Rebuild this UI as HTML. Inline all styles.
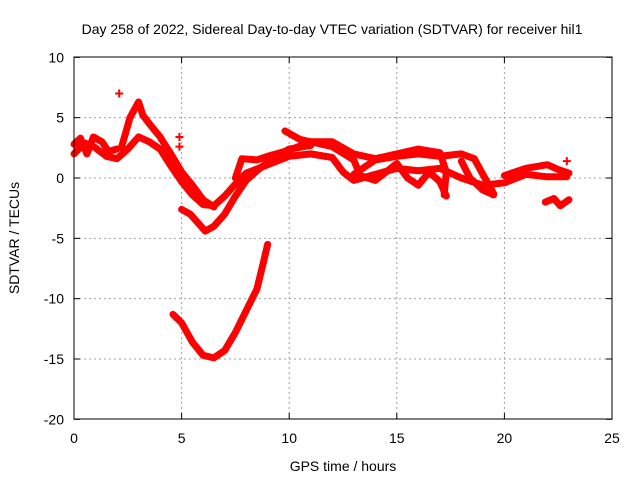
<!DOCTYPE html>
<html><head><meta charset="utf-8"><style>
body{margin:0;background:#fff}
svg{display:block;font-family:"Liberation Sans",sans-serif}
</style></head><body>
<svg id="chart" width="640" height="480">
<text x="332" y="34" font-size="14" text-anchor="middle">Day 258 of 2022, Sidereal Day-to-day VTEC variation (SDTVAR) for receiver hil1</text>
<text x="343" y="471" font-size="14" text-anchor="middle">GPS time / hours</text>
<text transform="translate(19,238) rotate(-90)" font-size="14" text-anchor="middle">SDTVAR / TECUs</text>
<g id="grid"></g><g id="ticks"></g><g id="series"></g>
<rect x="74" y="57" width="538" height="362" fill="none" stroke="#000" stroke-width="1"/>
</svg>
<script>
const xTicks=[0,5,10,15,20,25];
const yTicks=[10,5,0,-5,-10,-15,-20];
const trackDip=[[4.6,-11.3],[5,-12],[5.5,-13.6],[6,-14.7],[6.5,-14.9],[7,-14.3],[7.5,-12.8],[8,-11],[8.5,-9.2],[8.8,-7],[9,-5.5]];
const trackLow=[[5,-2.6],[5.4,-3],[5.8,-3.8],[6.1,-4.4],[6.5,-4],[7,-3],[7.5,-1.5],[8,-0.2],[8.5,0.6],[9,1.3],[9.5,1.9],[10,2.4],[11,2.7]];
const trackMain=[[0,2],[0.5,2.9],[1,2.5],[1.5,1.8],[2,1.6],[2.5,2.4],[3,3.4],[3.5,3],[4,2.4],[4.5,1],[5,-0.3],[5.5,-1.4],[6,-2.2],[6.5,-2.3],[7,-1.5],[7.5,-0.5],[8,0.4],[9,1.1],[10,1.8],[11,2],[12,1.7],[12.5,0.5],[13,-0.2],[14,0.3],[15,0.8],[16,0.6],[17,0.8],[18,0],[19,-0.6],[20,-0.4],[21,0.3],[22,0.1],[22.9,0.1]];
const trackEarly=[[0,2.8],[0.3,3.3],[0.6,2],[0.9,3.4],[1.3,3],[1.6,2.2],[2,2.4]];
const trackUp=[[2.2,2.5],[2.6,5],[3,6.3],[3.2,5.2],[3.5,4.5],[4,3.4],[4.5,2],[5,0.5],[5.5,-0.6],[6,-1.8],[6.5,-2.4]];
const trackA=[[7.5,0],[7.8,1.6],[8.5,1.5],[9,1.8],[10,2.3],[11,3],[12,3],[13,2],[14,1.6],[15,2],[16,2.4],[17,2.1],[17.3,0.5],[17.2,-1.4]];
const trackB=[[9.8,3.9],[10.5,3.2],[12,2.6],[13,1.5],[13.3,0.2],[14,-0.2],[14.5,0.5],[15,1.2],[15.5,0],[16,-0.6],[16.5,0.5],[17,-0.3],[17.3,-1.5]];
const trackC=[[13,0.3],[14,1.5],[15,1.8],[16,2],[17,1.8],[18,2],[18.6,1.6],[19,0.3],[19.5,-1.3]];
const trackD=[[18,1.4],[18.4,0],[19,-1],[19.5,-1.4]];
const trackE=[[20,0.2],[21,0.8],[22,1.1],[22.5,0.7],[23,0.4]];
const trackF=[[21.9,-2],[22.3,-1.7],[22.6,-2.3],[23,-1.8]];
const isolated=[[2.1,7],[4.9,3.4],[4.9,2.6],[22.9,1.4]];
const tracks=[trackDip,trackLow,trackMain,trackEarly,trackUp,trackA,trackB,trackC,trackD,trackE,trackF];
const X=v=>74+v*538/25, Y=v=>178-v*362/30;
const NS="http://www.w3.org/2000/svg";
const mk=(t,a,p)=>{const e=document.createElementNS(NS,t);for(const k in a)e.setAttribute(k,a[k]);p.appendChild(e);return e;};
const grid=document.getElementById('grid'),ticks=document.getElementById('ticks'),ser=document.getElementById('series');
xTicks.forEach(t=>{
 if(t>0&&t<25){const g=mk('line',{x1:X(t),x2:X(t),y1:57,y2:419,stroke:'#a0a0a0','stroke-dasharray':'2,3'},grid);
 
 }
 mk('line',{x1:X(t),x2:X(t),y1:419,y2:413,stroke:'#000'},ticks);
 mk('line',{x1:X(t),x2:X(t),y1:57,y2:63,stroke:'#000'},ticks);
 const l=mk('text',{x:X(t),y:443,'font-size':14,'text-anchor':'middle'},ticks);l.textContent=t;
 
 
});
yTicks.forEach(t=>{
 if(t<10&&t>-20){const g=mk('line',{x1:74,x2:612,y1:Y(t),y2:Y(t),stroke:'#a0a0a0','stroke-dasharray':'2,3'},grid);
 
 }
 mk('line',{x1:74,x2:80,y1:Y(t),y2:Y(t),stroke:'#000'},ticks);
 mk('line',{x1:612,x2:606,y1:Y(t),y2:Y(t),stroke:'#000'},ticks);
 const l=mk('text',{x:64,y:Y(t)+5,'font-size':14,'text-anchor':'end'},ticks);l.textContent=t;
 
 
});
tracks.forEach(tr=>{
 const p=mk('polyline',{points:tr.map(d=>X(d[0])+','+Y(d[1])).join(' '),fill:'none',stroke:'#ff0000','stroke-width':7,'stroke-linejoin':'round','stroke-linecap':'round'},ser);
 
 
});
isolated.forEach(d=>{
 const p=mk('path',{d:`M${X(d[0])-4},${Y(d[1])}h8M${X(d[0])},${Y(d[1])-4}v8`,stroke:'#ff0000','stroke-width':2},ser);
 
 
});
</script>
</body></html>
